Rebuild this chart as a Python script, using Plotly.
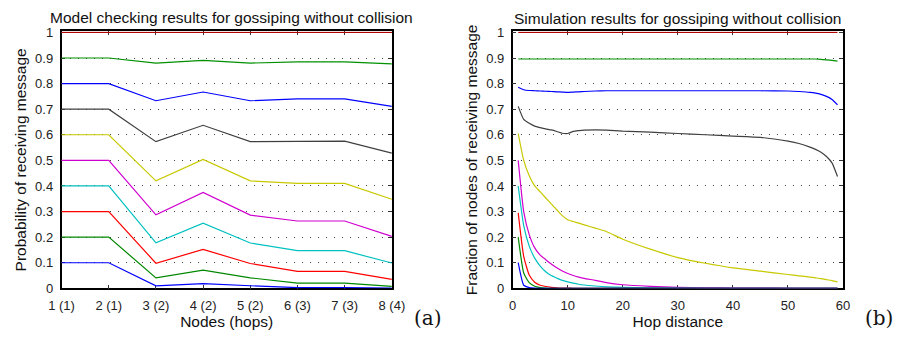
import plotly.graph_objects as go
from plotly.subplots import make_subplots

# ---------- Panel (a): model checking ----------
node_labels = ["1 (1)", "2 (1)", "3 (2)", "4 (2)", "5 (2)", "6 (3)", "7 (3)", "8 (4)"]
model_p10 = [1.0, 1.0, 1.0, 1.0, 1.0, 1.0, 1.0, 1.0]
model_p09 = [0.9, 0.9, 0.880, 0.891, 0.880, 0.885, 0.885, 0.877]
model_p08 = [0.8, 0.8, 0.733, 0.767, 0.733, 0.740, 0.740, 0.711]
model_p07 = [0.7, 0.7, 0.573, 0.637, 0.573, 0.574, 0.575, 0.528]
model_p06 = [0.6, 0.6, 0.420, 0.504, 0.420, 0.410, 0.410, 0.348]
model_p05 = [0.5, 0.5, 0.287, 0.375, 0.286, 0.263, 0.263, 0.203]
model_p04 = [0.4, 0.4, 0.178, 0.255, 0.177, 0.147, 0.147, 0.099]
model_p03 = [0.3, 0.3, 0.098, 0.152, 0.097, 0.066, 0.066, 0.035]
model_p02 = [0.2, 0.2, 0.041, 0.071, 0.041, 0.020, 0.020, 0.008]
model_p01 = [0.1, 0.1, 0.010, 0.018, 0.010, 0.003, 0.003, 0.001]

# ---------- Panel (b): simulation ----------
hops = [1, 2, 3, 4, 5, 6, 7, 8, 9, 10, 11, 12, 13, 15, 17, 20, 25, 30, 35, 40,
        45, 50, 52, 54, 55, 56, 57, 58, 59]
sim_p10 = [1.0] * 29
sim_p09 = [0.896, 0.896, 0.896, 0.896, 0.896, 0.896, 0.896, 0.896, 0.896, 0.896,
           0.896, 0.896, 0.896, 0.896, 0.896, 0.896, 0.896, 0.896, 0.896, 0.896,
           0.896, 0.896, 0.896, 0.896, 0.896, 0.895, 0.893, 0.891, 0.888]
sim_p08 = [0.786, 0.776, 0.773, 0.772, 0.771, 0.770, 0.769, 0.768, 0.767, 0.766,
           0.767, 0.768, 0.769, 0.771, 0.772, 0.772, 0.772, 0.772, 0.772, 0.772,
           0.772, 0.771, 0.769, 0.766, 0.763, 0.758, 0.750, 0.738, 0.717]
sim_p07 = [0.711, 0.660, 0.645, 0.634, 0.628, 0.623, 0.619, 0.613, 0.606, 0.605,
           0.613, 0.616, 0.618, 0.619, 0.618, 0.614, 0.610, 0.605, 0.600, 0.595,
           0.590, 0.575, 0.566, 0.552, 0.543, 0.532, 0.515, 0.490, 0.437]
sim_p06 = [0.605, 0.500, 0.440, 0.400, 0.377, 0.353, 0.330, 0.307, 0.284, 0.268,
           0.261, 0.255, 0.248, 0.235, 0.222, 0.192, 0.153, 0.120, 0.098, 0.080,
           0.067, 0.054, 0.049, 0.044, 0.041, 0.038, 0.034, 0.030, 0.025]
sim_p05 = [0.500, 0.300, 0.210, 0.158, 0.130, 0.112, 0.095, 0.080, 0.068, 0.058,
           0.050, 0.044, 0.039, 0.031, 0.022, 0.014, 0.008, 0.004, 0.002, 0.001,
           0.001, 0.0, 0.0, 0.0, 0.0, 0.0, 0.0, 0.0, 0.0]
sim_p04 = [0.400, 0.245, 0.165, 0.118, 0.087, 0.065, 0.050, 0.040, 0.031, 0.025,
           0.020, 0.016, 0.013, 0.009, 0.006, 0.004, 0.002, 0.001, 0.0, 0.0,
           0.0, 0.0, 0.0, 0.0, 0.0, 0.0, 0.0, 0.0, 0.0]
sim_p03 = [0.295, 0.125, 0.052, 0.024, 0.012, 0.007, 0.004, 0.002, 0.001, 0.001,
           0.0, 0.0, 0.0, 0.0, 0.0, 0.0, 0.0, 0.0, 0.0, 0.0,
           0.0, 0.0, 0.0, 0.0, 0.0, 0.0, 0.0, 0.0, 0.0]
sim_p02 = [0.200, 0.060, 0.022, 0.008, 0.003, 0.001, 0.0, 0.0, 0.0, 0.0,
           0.0, 0.0, 0.0, 0.0, 0.0, 0.0, 0.0, 0.0, 0.0, 0.0,
           0.0, 0.0, 0.0, 0.0, 0.0, 0.0, 0.0, 0.0, 0.0]
sim_p01 = [0.100, 0.012, 0.003, 0.001, 0.0, 0.0, 0.0, 0.0, 0.0, 0.0,
           0.0, 0.0, 0.0, 0.0, 0.0, 0.0, 0.0, 0.0, 0.0, 0.0,
           0.0, 0.0, 0.0, 0.0, 0.0, 0.0, 0.0, 0.0, 0.0]

colors = {
    "p10": "#b00000", "p09": "#009000", "p08": "#0000ff", "p07": "#404040",
    "p06": "#c8c800", "p05": "#d000d0", "p04": "#00c0c0", "p03": "#ff0000",
    "p02": "#008800", "p01": "#0000ff",
}
model = [("p01", model_p01), ("p02", model_p02), ("p03", model_p03), ("p04", model_p04),
         ("p05", model_p05), ("p06", model_p06), ("p07", model_p07), ("p08", model_p08),
         ("p09", model_p09), ("p10", model_p10)]
sim = [("p01", sim_p01), ("p02", sim_p02), ("p03", sim_p03), ("p04", sim_p04),
       ("p05", sim_p05), ("p06", sim_p06), ("p07", sim_p07), ("p08", sim_p08),
       ("p09", sim_p09), ("p10", sim_p10)]

fig = make_subplots(rows=1, cols=2, horizontal_spacing=0.1)
xa = list(range(1, len(node_labels) + 1))
for key, ys in model:
    fig.add_trace(go.Scatter(x=xa, y=ys, mode="lines", line=dict(color=colors[key], width=1.2),
                             showlegend=False, hoverinfo="skip", cliponaxis=False), row=1, col=1)
for key, ys in reversed(sim):
    fig.add_trace(go.Scatter(x=hops, y=ys, mode="lines",
                             line=dict(color=colors[key], width=1.2, shape="spline", smoothing=0.5),
                             showlegend=False, hoverinfo="skip", cliponaxis=False), row=1, col=2)

font = "Liberation Sans, Arial, sans-serif"
tfont = dict(size=13, color="#222", family=font)
lfont = dict(size=15.5, color="#111", family=font)
yticks = [0, 0.1, 0.2, 0.3, 0.4, 0.5, 0.6, 0.7, 0.8, 0.9, 1]
ytext = ["0", "0.1", "0.2", "0.3", "0.4", "0.5", "0.6", "0.7", "0.8", "0.9", "1"]
common_y = dict(range=[0, 1.004], tickvals=yticks, ticktext=ytext, showgrid=True,
                gridcolor="#444444", griddash="1px,7px", gridwidth=1,
                showline=True, linecolor="black", linewidth=1.5, mirror="ticks",
                ticks="inside", ticklen=4, tickcolor="#333", zeroline=False,
                layer="below traces", ticklabelstandoff=4, tickfont=tfont)
common_x = dict(showgrid=False, showline=True, linecolor="black", linewidth=1.5, mirror="ticks",
                ticks="inside", ticklen=4, tickcolor="#333", zeroline=False,
                layer="below traces", ticklabelstandoff=4, tickfont=tfont)

fig.update_xaxes(domain=[0.0548, 0.4276], range=[1, 8], tickvals=xa, ticktext=node_labels,
                 title=dict(text="Nodes (hops)", font=lfont, standoff=2), **common_x,
                 row=1, col=1)
fig.update_xaxes(domain=[0.564, 0.9368], range=[0, 60], tickvals=[0, 10, 20, 30, 40, 50, 60],
                 title=dict(text="Hop distance", font=lfont, standoff=2), **common_x,
                 row=1, col=2)
fig.update_yaxes(domain=[0.1313, 0.9219], **common_y,
                 title=dict(text="Probability of receiving message", font=lfont, standoff=5),
                 row=1, col=1)
fig.update_yaxes(domain=[0.1313, 0.9219], **common_y,
                 title=dict(text="Fraction of nodes of receiving message", font=lfont, standoff=5),
                 row=1, col=2)

fig.update_layout(
    width=912, height=339, margin=dict(l=0, r=0, t=0, b=0),
    plot_bgcolor="white", paper_bgcolor="white",
    annotations=[
        dict(text="Model checking results for gossiping without collision", x=0.2466, y=1 - 12 / 339,
             xref="paper", yref="paper", showarrow=False, xanchor="center", yanchor="middle",
             font=lfont),
        dict(text="Simulation results for gossiping without collision", x=0.7505, y=1 - 13 / 339,
             xref="paper", yref="paper", showarrow=False, xanchor="center", yanchor="middle",
             font=lfont),
        dict(text="(a)", x=427 / 912, y=1 - 325 / 339, xref="paper", yref="paper", showarrow=False,
             xanchor="center", yanchor="middle", font=dict(size=20, color="#111", family="DejaVu Serif, serif")),
        dict(text="(b)", x=891 / 912, y=1 - 325 / 339, xref="paper", yref="paper", showarrow=False,
             xanchor="center", yanchor="middle", font=dict(size=20, color="#111", family="DejaVu Serif, serif")),
    ],
)

fig.write_html("out.html")
